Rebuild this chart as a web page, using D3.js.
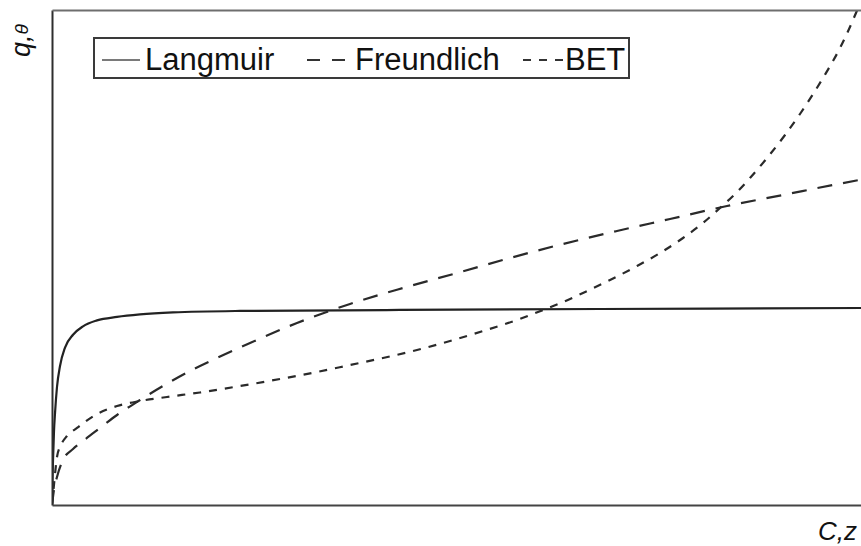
<!DOCTYPE html>
<html>
<head>
<meta charset="utf-8">
<script src="https://cdn.jsdelivr.net/npm/d3@7"></script>
<style>
  html, body { margin: 0; padding: 0; background: #fff; overflow: hidden; }
  svg { display: block; }
  text { font-family: "Liberation Sans", Arial, Helvetica, sans-serif; fill: #111; }
</style>
</head>
<body>
<svg id="chart" width="861" height="546"></svg>
<script>
// ---- Data (arbitrary units, C on x, q/θ on y) ----
const seriesNames = ["Langmuir", "Freundlich", "BET"];

const langmuirC = [0, 0.06, 0.12, 0.24, 0.37, 0.61, 0.98, 1.59, 2.57, 3.79, 5.50, 7.95, 10.76, 14.79, 22.98, 42.54, 66.99, 100];
const langmuirQ = [0, 5.05, 8.89, 14.75, 18.59, 23.84, 28.08, 31.8, 34.4, 36.1, 37.3, 38.0, 38.5, 38.9, 39.2, 39.4, 39.6, 39.8];

const freundlichC = [0, 0.24, 0.61, 1.34, 2.57, 3.79, 5.87, 7.95, 10.76, 13.57, 16.87, 20.17, 24.21, 29.95,
  36.43, 42.91, 49.51, 55.99, 62.47, 69.07, 75.55, 82.52, 89.36, 95.48, 100];
const freundlichQ = [0, 3.03, 5.66, 9.09, 11.31, 12.93, 15.56, 18.18, 21.21, 24.04, 27.07, 29.70, 32.73, 36.77,
  40.61, 43.84, 46.87, 49.90, 52.73, 55.35, 57.78, 60.40, 62.63, 64.65, 66.06];

const betC = [0, 0.24, 0.61, 1.10, 1.83, 3.06, 5.50, 7.95, 10.76, 14.06, 18.09, 22.98, 28.24, 32.40, 36.43,
  40.46, 44.62, 48.66, 52.69, 56.85, 60.02, 62.47, 64.91, 68.22, 71.52, 74.33, 77.14, 79.58, 81.66, 83.74,
  85.33, 87.41, 89.61, 91.44, 94.25, 96.33, 97.92, 98.53, 99.14];
const betQ = [0, 4.04, 9.70, 12.12, 13.94, 15.56, 18.38, 20.0, 21.01, 21.82, 22.73, 24.04, 25.56, 26.87, 28.28,
  29.70, 31.31, 33.13, 35.15, 37.37, 39.39, 41.01, 42.83, 45.45, 48.28, 50.91, 53.94, 56.97, 60.0, 63.23,
  66.06, 70.10, 74.75, 78.99, 86.26, 92.32, 97.98, 100.40, 103.23];

const xLabel = "C,z";
const yLabelMain = "q,";
const yLabelSup = "θ";

// ---- Layout / style ----
const svg = d3.select("#chart");
const plotLeft = 52, plotRight = 870, plotTop = 10, plotBottom = 505;

const x = d3.scaleLinear().domain([0, 100]).range([plotLeft, plotRight]);
const y = d3.scaleLinear().domain([0, 100]).range([plotBottom, plotTop]);

svg.append("defs").append("clipPath").attr("id", "plotclip")
  .append("rect").attr("x", plotLeft).attr("y", plotTop)
  .attr("width", plotRight - plotLeft).attr("height", plotBottom - plotTop);

const styles = {
  Langmuir:   { dash: null,    legendDash: null,    color: "#222", legendColor: "#7a7a7a" },
  Freundlich: { dash: "15,11", legendDash: "13,12", color: "#2a2a2a", legendColor: "#333" },
  BET:        { dash: "8,8",   legendDash: "8,8",   color: "#2a2a2a", legendColor: "#333" }
};

const series = [
  { name: "Langmuir",   c: langmuirC,   q: langmuirQ },
  { name: "Freundlich", c: freundlichC, q: freundlichQ },
  { name: "BET",        c: betC,        q: betQ }
];

const line = d3.line()
  .x(d => x(d[0]))
  .y(d => y(d[1]))
  .curve(d3.curveMonotoneX);

const plot = svg.append("g").attr("clip-path", "url(#plotclip)");
series.forEach(s => {
  const pts = s.c.map((c, i) => [c, s.q[i]]);
  plot.append("path")
    .attr("d", line(pts))
    .attr("fill", "none")
    .attr("stroke", styles[s.name].color)
    .attr("stroke-width", 2.2)
    .attr("stroke-dasharray", styles[s.name].dash)
    .attr("stroke-linecap", "butt");
});

// ---- Frame via axes without ticks ----
const axL = svg.append("g").attr("transform", `translate(${plotLeft},0)`)
  .call(d3.axisLeft(y).tickValues([]).tickSizeOuter(0));
axL.select(".domain").attr("stroke", "#2e2e2e").attr("stroke-width", 2);

const axB = svg.append("g").attr("transform", `translate(0,${plotBottom})`)
  .call(d3.axisBottom(x).tickValues([]).tickSizeOuter(0));
axB.select(".domain").attr("stroke", "#444").attr("stroke-width", 2);

const axT = svg.append("g").attr("transform", `translate(0,${plotTop})`)
  .call(d3.axisTop(x).tickValues([]).tickSizeOuter(0));
axT.select(".domain").attr("stroke", "#6e6e6e").attr("stroke-width", 2);

// ---- Legend ----
const lg = svg.append("g");
lg.append("rect")
  .attr("x", 94).attr("y", 38).attr("width", 535).attr("height", 40)
  .attr("fill", "#fff").attr("stroke", "#3a3a3a").attr("stroke-width", 2);

const legendItems = [
  { name: seriesNames[0], x1: 102, x2: 140, tx: 145 },
  { name: seriesNames[1], x1: 307, x2: 345, tx: 355 },
  { name: seriesNames[2], x1: 523, x2: 564, tx: 565 }
];
legendItems.forEach(it => {
  lg.append("line")
    .attr("x1", it.x1).attr("x2", it.x2).attr("y1", 60).attr("y2", 60)
    .attr("stroke", styles[it.name].legendColor)
    .attr("stroke-width", 2)
    .attr("stroke-dasharray", styles[it.name].legendDash);
  lg.append("text")
    .attr("x", it.tx).attr("y", 69.5)
    .attr("font-size", 31)
    .text(it.name);
});

// ---- Axis labels ----
svg.append("text")
  .attr("x", 818).attr("y", 540)
  .attr("font-size", 26).attr("font-style", "italic")
  .text(xLabel);

const yl = svg.append("text")
  .attr("transform", "translate(30,57) rotate(-90)")
  .attr("font-size", 27).attr("font-style", "italic");
yl.append("tspan").text(yLabelMain);
yl.append("tspan").attr("font-size", 19).attr("dy", -2).text(yLabelSup);
</script>
</body>
</html>
